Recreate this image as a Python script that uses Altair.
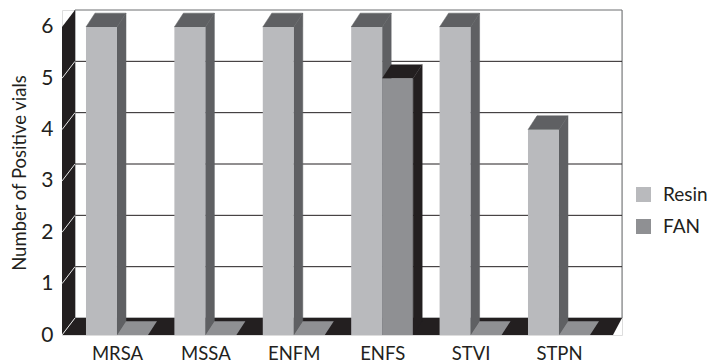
import altair as alt
import pandas as pd

# ---- data ----
categories = ["MRSA", "MSSA", "ENFM", "ENFS", "STVI", "STPN"]
resin = [6, 6, 6, 6, 6, 4]
fan = [0, 0, 0, 5, 0, 0]
series = ["Resin", "FAN"]
y_ticks = [0, 1, 2, 3, 4, 5, 6]

# ---- styling / 3D geometry (in scale units) ----
W_PX, H_PX = 560, 325
UNIT_PX = 88.4
X_MIN = -0.622
X_MAX = X_MIN + W_PX / UNIT_PX
D_X = 13 / UNIT_PX          # wall depth (x)
D_Y = 0.331                 # wall depth (y)
Y_MAX = 6 + D_Y
BW = 31 / UNIT_PX           # bar width
BDX = 9 / UNIT_PX           # bar depth (x)
BDY = 0.27                  # bar depth (y)
FLOOR_RDX = 9 / UNIT_PX

C_RESIN = "#b9babd"
C_RESIN_DARK = "#5f6063"
C_FAN = "#8f9093"
C_BLACK = "#231f20"
FONT = "Lato, sans-serif"

label_expr = "[" + ",".join("'%s'" % c for c in categories) + "][datum.value]"
xaxis = alt.Axis(values=list(range(len(categories))), labelExpr=label_expr, title=None,
                 domain=False, ticks=False, grid=False, labelFontSize=18.5,
                 labelPadding=9, labelColor=C_BLACK, labelFlush=False)
yaxis = alt.Axis(values=y_ticks, title="Number of Positive vials", domain=False, ticks=False,
                 grid=False, labelFontSize=21, labelPadding=9, labelColor=C_BLACK,
                 titleFontSize=18.5, titleFontWeight="normal", titleColor=C_BLACK,
                 titlePadding=11, labelFlush=False)
xscale = alt.Scale(domain=[X_MIN, X_MAX], nice=False, zero=False)
yscale = alt.Scale(domain=[0, Y_MAX], nice=False, zero=False)


def X(f):
    return alt.X(f, type="quantitative", scale=xscale, axis=xaxis, stack=None)


def Y(f):
    return alt.Y(f, type="quantitative", scale=yscale, axis=yaxis, stack=None)


# ---- frame ----
back_df = pd.DataFrame([{"x0": X_MIN + D_X, "x1": X_MAX, "y0": D_Y, "y1": Y_MAX}])
grid_df = pd.DataFrame([{"x0": X_MIN + D_X, "x1": X_MAX, "y": k + D_Y} for k in y_ticks[1:-1]])
floor_df = pd.DataFrame([
    {"y": 0, "xa": X_MIN, "xb": X_MAX - FLOOR_RDX},
    {"y": D_Y, "xa": X_MIN + D_X, "xb": X_MAX},
])
wall_df = pd.DataFrame([
    {"x": X_MIN, "lo": 0, "hi": y_ticks[-1]},
    {"x": X_MIN + D_X, "lo": D_Y, "hi": Y_MAX},
])
wall_lines_df = pd.DataFrame([{"x0": X_MIN, "x1": X_MIN + D_X, "y0": k, "y1": k + D_Y}
                              for k in y_ticks[:-1]])

# ---- bars ----
fronts, sides, tops = [], [], []
for i, c in enumerate(categories):
    for s, v, x0, x1 in ((series[0], resin[i], i - BW, i), (series[1], fan[i], i, i + BW)):
        bid = f"{c}-{s}"
        fronts.append({"id": bid, "series": s, "x0": x0, "x1": x1, "v": v})
        sides.append({"id": bid, "series": s, "x": x1, "lo": 0, "hi": v})
        sides.append({"id": bid, "series": s, "x": x1 + BDX, "lo": BDY, "hi": v + BDY})
        tops.append({"id": bid, "series": s, "v": v, "y": v, "xa": x0, "xb": x1})
        tops.append({"id": bid, "series": s, "v": v, "y": v + BDY, "xa": x0 + BDX, "xb": x1 + BDX})
fronts_df = pd.DataFrame(fronts)
sides_df = pd.DataFrame(sides)
tops_df = pd.DataFrame(tops)

back = alt.Chart(back_df).mark_rect(fill="white", stroke="#6d6e71", strokeWidth=1).encode(
    x=X("x0"), x2="x1", y=Y("y0"), y2="y1")
grid = alt.Chart(grid_df).mark_rule(color=C_BLACK, strokeWidth=1).encode(
    x=X("x0"), x2="x1", y=Y("y"))
floor = alt.Chart(floor_df).mark_area(orient="horizontal", color=C_BLACK).encode(
    y=Y("y"), x=X("xa"), x2="xb")
wall = alt.Chart(wall_df).mark_area(orient="vertical", color=C_BLACK).encode(
    x=X("x"), y=Y("lo"), y2="hi")
wall_lines = alt.Chart(wall_lines_df).mark_rule(color="#e8e8e8", strokeWidth=1).encode(
    x=X("x0"), x2="x1", y=Y("y0"), y2="y1")

resin_side = alt.Chart(sides_df).transform_filter(alt.datum.series == series[0]).mark_area(
    orient="vertical", color=C_RESIN_DARK, stroke=C_RESIN_DARK, strokeWidth=0.5).encode(
    x=X("x"), y=Y("lo"), y2="hi", detail="id:N")
resin_top = alt.Chart(tops_df).transform_filter(alt.datum.series == series[0]).mark_area(
    orient="horizontal", color=C_RESIN_DARK, stroke=C_RESIN_DARK, strokeWidth=0.5).encode(
    y=Y("y"), x=X("xa"), x2="xb", detail="id:N")
front = alt.Chart(fronts_df).mark_rect().encode(
    x=X("x0"), x2="x1", y=Y("v"), y2=alt.datum(0),
    color=alt.Color("series:N", scale=alt.Scale(domain=series, range=[C_RESIN, C_FAN]),
                    legend=alt.Legend(title=None, orient="none", legendX=572, legendY=175,
                                      symbolType="square", symbolSize=225,
                                      symbolStrokeWidth=0, labelFontSize=19,
                                      labelOffset=10, rowPadding=12, labelColor=C_BLACK)))
fan_side = alt.Chart(sides_df).transform_filter(alt.datum.series == series[1]).mark_area(
    orient="vertical", color=C_BLACK, stroke=C_BLACK, strokeWidth=0.5).encode(
    x=X("x"), y=Y("lo"), y2="hi", detail="id:N")
fan_top = alt.Chart(tops_df).transform_filter(alt.datum.series == series[1]).mark_area(
    orient="horizontal").encode(
    y=Y("y"), x=X("xa"), x2="xb", detail="id:N",
    color=alt.condition(alt.datum.v > 0, alt.value(C_BLACK), alt.value(C_FAN)))

chart = alt.layer(back, grid, floor, wall, wall_lines, resin_side, resin_top, front,
                  fan_side, fan_top).properties(
    width=W_PX, height=H_PX,
    padding={"left": 62, "top": 10, "right": 94, "bottom": 29},
    autosize=alt.AutoSizeParams(type="none"),
    background="white",
).configure_view(strokeWidth=0).configure(font=FONT)

chart.save("out.html", embed_options={"renderer": "svg", "actions": False})
